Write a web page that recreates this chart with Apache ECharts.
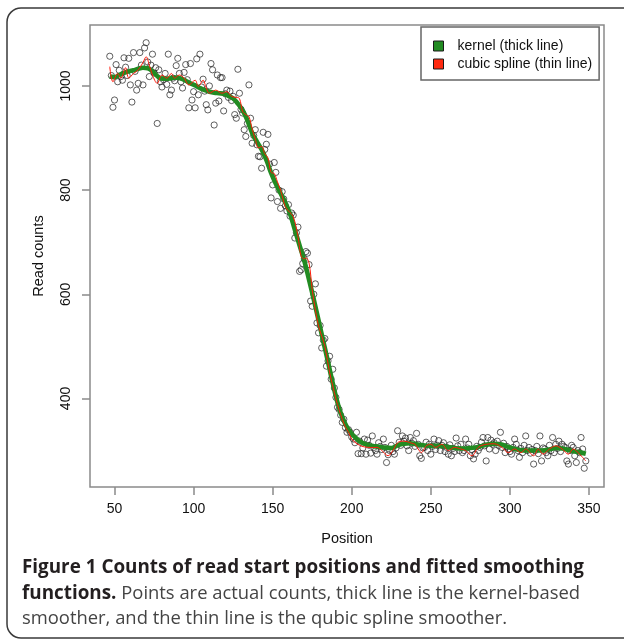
<!DOCTYPE html>
<html>
<head>
<meta charset="utf-8">
<script src="https://cdn.jsdelivr.net/npm/echarts@6/dist/echarts.min.js"></script>
<style>
html,body{margin:0;padding:0;background:#fff;}
#chart{width:624px;height:640px;}
</style>
</head>
<body>
<div id="chart"></div>
<script>
// ---- data ----
const xTicks = [50, 100, 150, 200, 250, 300, 350];
const yTicks = [400, 600, 800, 1000];
const seriesNames = ['kernel (thick line)', 'cubic spline (thin line)'];

// read counts at each position (47..348)
const positions = [];
for (let p = 47; p <= 348; p++) positions.push(p);
const counts = [
1057,1020,959,973,1041,1008,1030,1018,1011,1054,1036,1020,1053,1002,969,1064,1028,992,1005,1064,
1040,1002,1073,1083,1046,1018,1040,1061,1025,1035,928,1031,1008,998,1012,1024,1003,1061,983,992,
1015,1010,1039,1053,1024,1008,996,1026,1041,1012,958,1043,973,989,958,1052,983,1061,998,1013,
990,964,954,1000,1043,1031,925,967,1021,971,1016,1016,952,985,992,978,990,972,980,945,
938,1032,986,955,948,916,903,928,1002,938,890,905,916,887,865,864,842,911,878,888,
907,850,785,810,853,834,778,800,765,797,783,770,760,772,750,756,752,708,718,729,
644,647,659,668,682,679,657,587,577,600,620,545,526,540,497,512,515,462,472,481,
437,456,420,402,383,379,368,354,360,344,335,340,335,326,322,315,335,294,318,294,
305,322,293,320,310,295,328,306,300,293,315,308,302,322,306,277,292,300,310,298,
293,305,338,316,310,328,318,324,309,300,325,314,319,308,333,312,290,285,305,306,
316,300,312,293,308,322,302,310,319,300,310,315,298,306,293,311,290,304,298,324,
309,300,312,296,300,322,305,312,290,302,284,293,308,300,306,316,325,309,280,325,
303,320,312,315,300,318,310,335,306,314,296,308,303,298,293,306,322,312,300,287,
304,296,310,328,300,306,295,302,274,300,308,294,328,280,305,303,296,290,310,300,
325,296,312,304,318,298,312,308,306,280,274,300,310,306,290,277,300,296,325,303,
266,280
];

// kernel smoother (thick line)
const kernelX = [47,50,53,56,59,62,65,68,71,74,77,80,83,86,89,92,95,98,101,104,107,110,113,116,119,122,125,128,131,134,137,140,143,146,149,152,155,158,161,164,167,170,173,176,179,182,185,188,191,194,197,200,203,206,210,215,220,225,229,233,237,241,245,250,255,260,265,270,275,280,285,290,294,298,302,306,310,315,320,325,329,333,337,341,345,348];
const kernelY = [1018,1017,1021,1025,1028,1030,1033,1035,1034,1028,1019,1014,1014,1015,1016,1014,1010,1005,1001,996,992,989,987,986,985,981,976,966,953,934,910,893,878,858,833,812,794,776,754,724,694,664,628,590,550,510,470,429,392,364,345,332,323,316,311,308,306,305,310,313,314,312,310,309,309,307,305,304,305,307,311,313,312,308,304,301,300,300,300,302,305,304,301,298,296,294];

// cubic spline smoother (thin line)
const splineX = [47,49,52,54,57,59,62,65,68,70,72,74,77,80,83,86,88,91,94,97,101,103,106,108,110,114,118,121,124,127,129,131,133,135,137,139,141,143,145,147,149,151,153,155,158,160,163,166,168,170,171,173,175,177,179,181,183,186,188,190,192,194,196,198,200,202,205,208,212,216,219,223,226,229,232,235,238,240,242,244,247,250,253,257,261,265,269,272,276,280,285,290,295,299,303,307,310,315,318,321,325,329,333,337,340,344,348];
const splineY = [1037,1008,1024,1015,1035,1015,1024,1031,1045,1056,1040,1021,1005,1021,1015,1024,1015,1021,1015,1002,1011,999,1011,996,986,992,986,989,980,978,976,951,945,941,918,898,881,884,870,862,834,832,816,800,768,760,749,711,673,668,670,660,609,570,539,520,500,450,424,399,378,360,345,335,322,316,310,307,306,306,300,290,300,315,318,317,314,312,303,296,309,312,306,312,300,306,303,300,290,306,312,313,306,296,303,296,303,290,303,293,303,309,303,293,303,293,280];

const pts = positions.map((p, i) => [p, counts[i]]);
const kernel = kernelX.map((x, i) => [x, kernelY[i]]);
const spline = splineX.map((x, i) => [x, splineY[i]]);

const chart = echarts.init(document.getElementById('chart'), null, {renderer: 'canvas'});
const axisFont = 'Liberation Sans';
const capFont = '"Open Sans", sans-serif';
const boldFont = 'bold 18.85px ' + capFont;
const regFont = '18.4px ' + capFont;

chart.setOption({
  animation: false,
  backgroundColor: '#fff',
  textStyle: {fontFamily: axisFont},
  grid: {left: 90, top: 25, right: 20, bottom: 153, show: true, borderColor: '#8a8a8a', borderWidth: 1.5, backgroundColor: 'transparent'},
  xAxis: {
    type: 'value', min: 34.5, max: 359.5,
    splitLine: {show: false},
    axisLine: {show: false},
    axisTick: {show: true, length: 8, customValues: xTicks, lineStyle: {color: '#8a8a8a', width: 1.5}},
    axisLabel: {customValues: xTicks, fontSize: 14, color: '#111', margin: 15, fontFamily: axisFont, formatter: v => String(v)},
    name: 'Position', nameLocation: 'middle', nameGap: 44,
    nameTextStyle: {fontSize: 14.5, color: '#111', fontFamily: axisFont}
  },
  yAxis: {
    type: 'value', min: 230, max: 1117,
    splitLine: {show: false},
    axisLine: {show: false},
    axisTick: {show: true, length: 8, customValues: yTicks, lineStyle: {color: '#8a8a8a', width: 1.5}},
    axisLabel: {customValues: yTicks, fontSize: 14, color: '#111', margin: 17, rotate: 90, fontFamily: axisFont, formatter: v => String(v)},
    name: 'Read counts', nameLocation: 'middle', nameGap: 44,
    nameTextStyle: {fontSize: 14.5, color: '#111', fontFamily: axisFont}
  },
  legend: {
    data: seriesNames,
    orient: 'vertical', left: 421, top: 27,
    icon: 'rect', itemWidth: 10, itemHeight: 10, itemGap: 4,
    padding: [12, 7, 9, 12],
    borderColor: '#666', borderWidth: 1.5, backgroundColor: '#fff',
    itemStyle: {borderColor: '#1a1a1a', borderWidth: 1},
    textStyle: {fontSize: 14, color: '#111', fontFamily: axisFont, padding: [0, 0, 0, 9]}
  },
  series: [
    {
      type: 'scatter', name: 'points', data: pts,
      symbol: 'circle', symbolSize: 6.2,
      itemStyle: {color: 'rgba(0,0,0,0)', borderColor: '#222', borderWidth: 0.9},
      z: 2
    },
    {
      type: 'line', name: seriesNames[0], data: kernel, smooth: true,
      showSymbol: false, symbol: 'none',
      lineStyle: {color: '#228B22', width: 4.6},
      itemStyle: {color: '#228B22'},
      z: 3
    },
    {
      type: 'line', name: seriesNames[1], data: spline, smooth: 0.35,
      showSymbol: false, symbol: 'none',
      lineStyle: {color: '#ff1a0a', width: 1},
      itemStyle: {color: '#ff2a10'},
      z: 4
    }
  ],
  graphic: [
    {type: 'rect', shape: {x: 7, y: 8, width: 660, height: 630, r: 14}, style: {fill: 'none', stroke: '#3a3a3a', lineWidth: 1.5}, silent: true},
    {type: 'text', x: 22, y: 568, style: {text: 'Figure 1 Counts of read start positions and fitted smoothing', font: boldFont, fill: '#231f20', verticalAlign: 'middle'}},
    {type: 'text', x: 22, y: 594, style: {text: '{b|functions.} Points are actual counts, thick line is the kernel-based', font: regFont, fill: '#444', verticalAlign: 'middle', rich: {b: {font: boldFont, fill: '#231f20'}}}},
    {type: 'text', x: 22, y: 619, style: {text: 'smoother, and the thin line is the qubic spline smoother.', font: regFont, fill: '#444', verticalAlign: 'middle'}}
  ]
});
</script>
</body>
</html>
